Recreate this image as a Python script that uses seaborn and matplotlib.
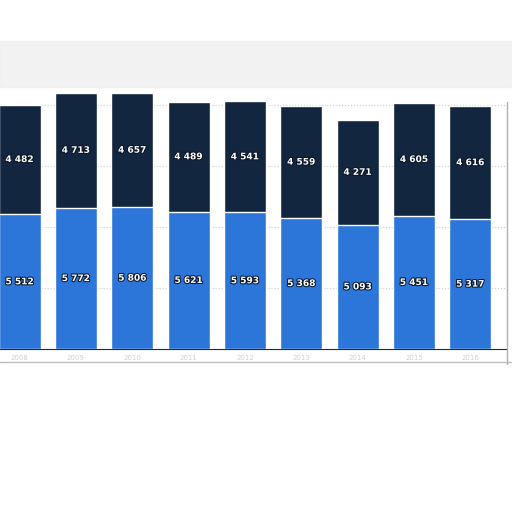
import pandas as pd
import numpy as np
import matplotlib.pyplot as plt
import matplotlib.patheffects as pe
import seaborn as sns

years = ["2008", "2009", "2010", "2011", "2012", "2013", "2014", "2015", "2016"]
lower = [5512, 5772, 5806, 5621, 5593, 5368, 5093, 5451, 5317]
upper = [4482, 4713, 4657, 4489, 4541, 4559, 4271, 4605, 4616]

df = pd.DataFrame({"year": years, "lower": lower, "upper": upper})
df["total"] = df["lower"] + df["upper"]

sns.set_style("white")
plt.rcParams['font.family'] = ['DejaVu Sans']

fig = plt.figure(figsize=(5.12, 5.12), dpi=100)
ax = fig.add_axes([0.0, 0.318, 0.99, 0.506])

sns.barplot(data=df, x="year", y="total", color="#12263f", width=0.745,
            saturation=1, ax=ax, zorder=2)
sns.barplot(data=df, x="year", y="lower", color="#2c76d9", width=0.745,
            saturation=1, ax=ax, zorder=3)

shadow = [pe.withStroke(linewidth=1.5, foreground="#0b1626")]
for i, row in df.iterrows():
    ax.text(i, row["lower"] / 2, f"{row['lower']:,}".replace(",", " "),
            ha="center", va="center", color="white", fontsize=6.5,
            fontweight="bold", path_effects=shadow, zorder=5)
    ax.text(i, row["lower"] + row["upper"] / 2, f"{row['upper']:,}".replace(",", " "),
            ha="center", va="center", color="white", fontsize=6.5,
            fontweight="bold", path_effects=shadow, zorder=5)

ax.set_xlim(-0.347, 8.65)
ax.set_ylim(0, 10590)
ax.set_yticks([2500, 5000, 7500, 10000])
ax.yaxis.grid(True, linestyle=":", color="#c8c8c8", linewidth=0.8)
ax.set_axisbelow(True)
ax.set_yticklabels([])
ax.tick_params(left=False, bottom=False, labelsize=5, colors="#d0d0d0", pad=1)
ax.set_xlabel("")
ax.set_ylabel("")
for s in ["top", "right", "left"]:
    ax.spines[s].set_visible(False)
ax.spines["bottom"].set_color("#1a2a3a")
ax.spines["bottom"].set_linewidth(0.8)

# faint blurred header band and page-edge shadow lines
fig.patches.append(plt.Rectangle((0.0, 0.83), 1.0, 0.09, transform=fig.transFigure,
                                 color="#efefef", alpha=0.8, zorder=0))
fig.lines.append(plt.Line2D([0.0, 1.0], [0.293, 0.293], transform=fig.transFigure,
                            color="#bdbdbd", linewidth=1.0))
fig.lines.append(plt.Line2D([0.991, 0.991], [0.29, 0.80], transform=fig.transFigure,
                            color="#b0b0b0", linewidth=1.0))

fig.savefig("out.png", dpi=100)
